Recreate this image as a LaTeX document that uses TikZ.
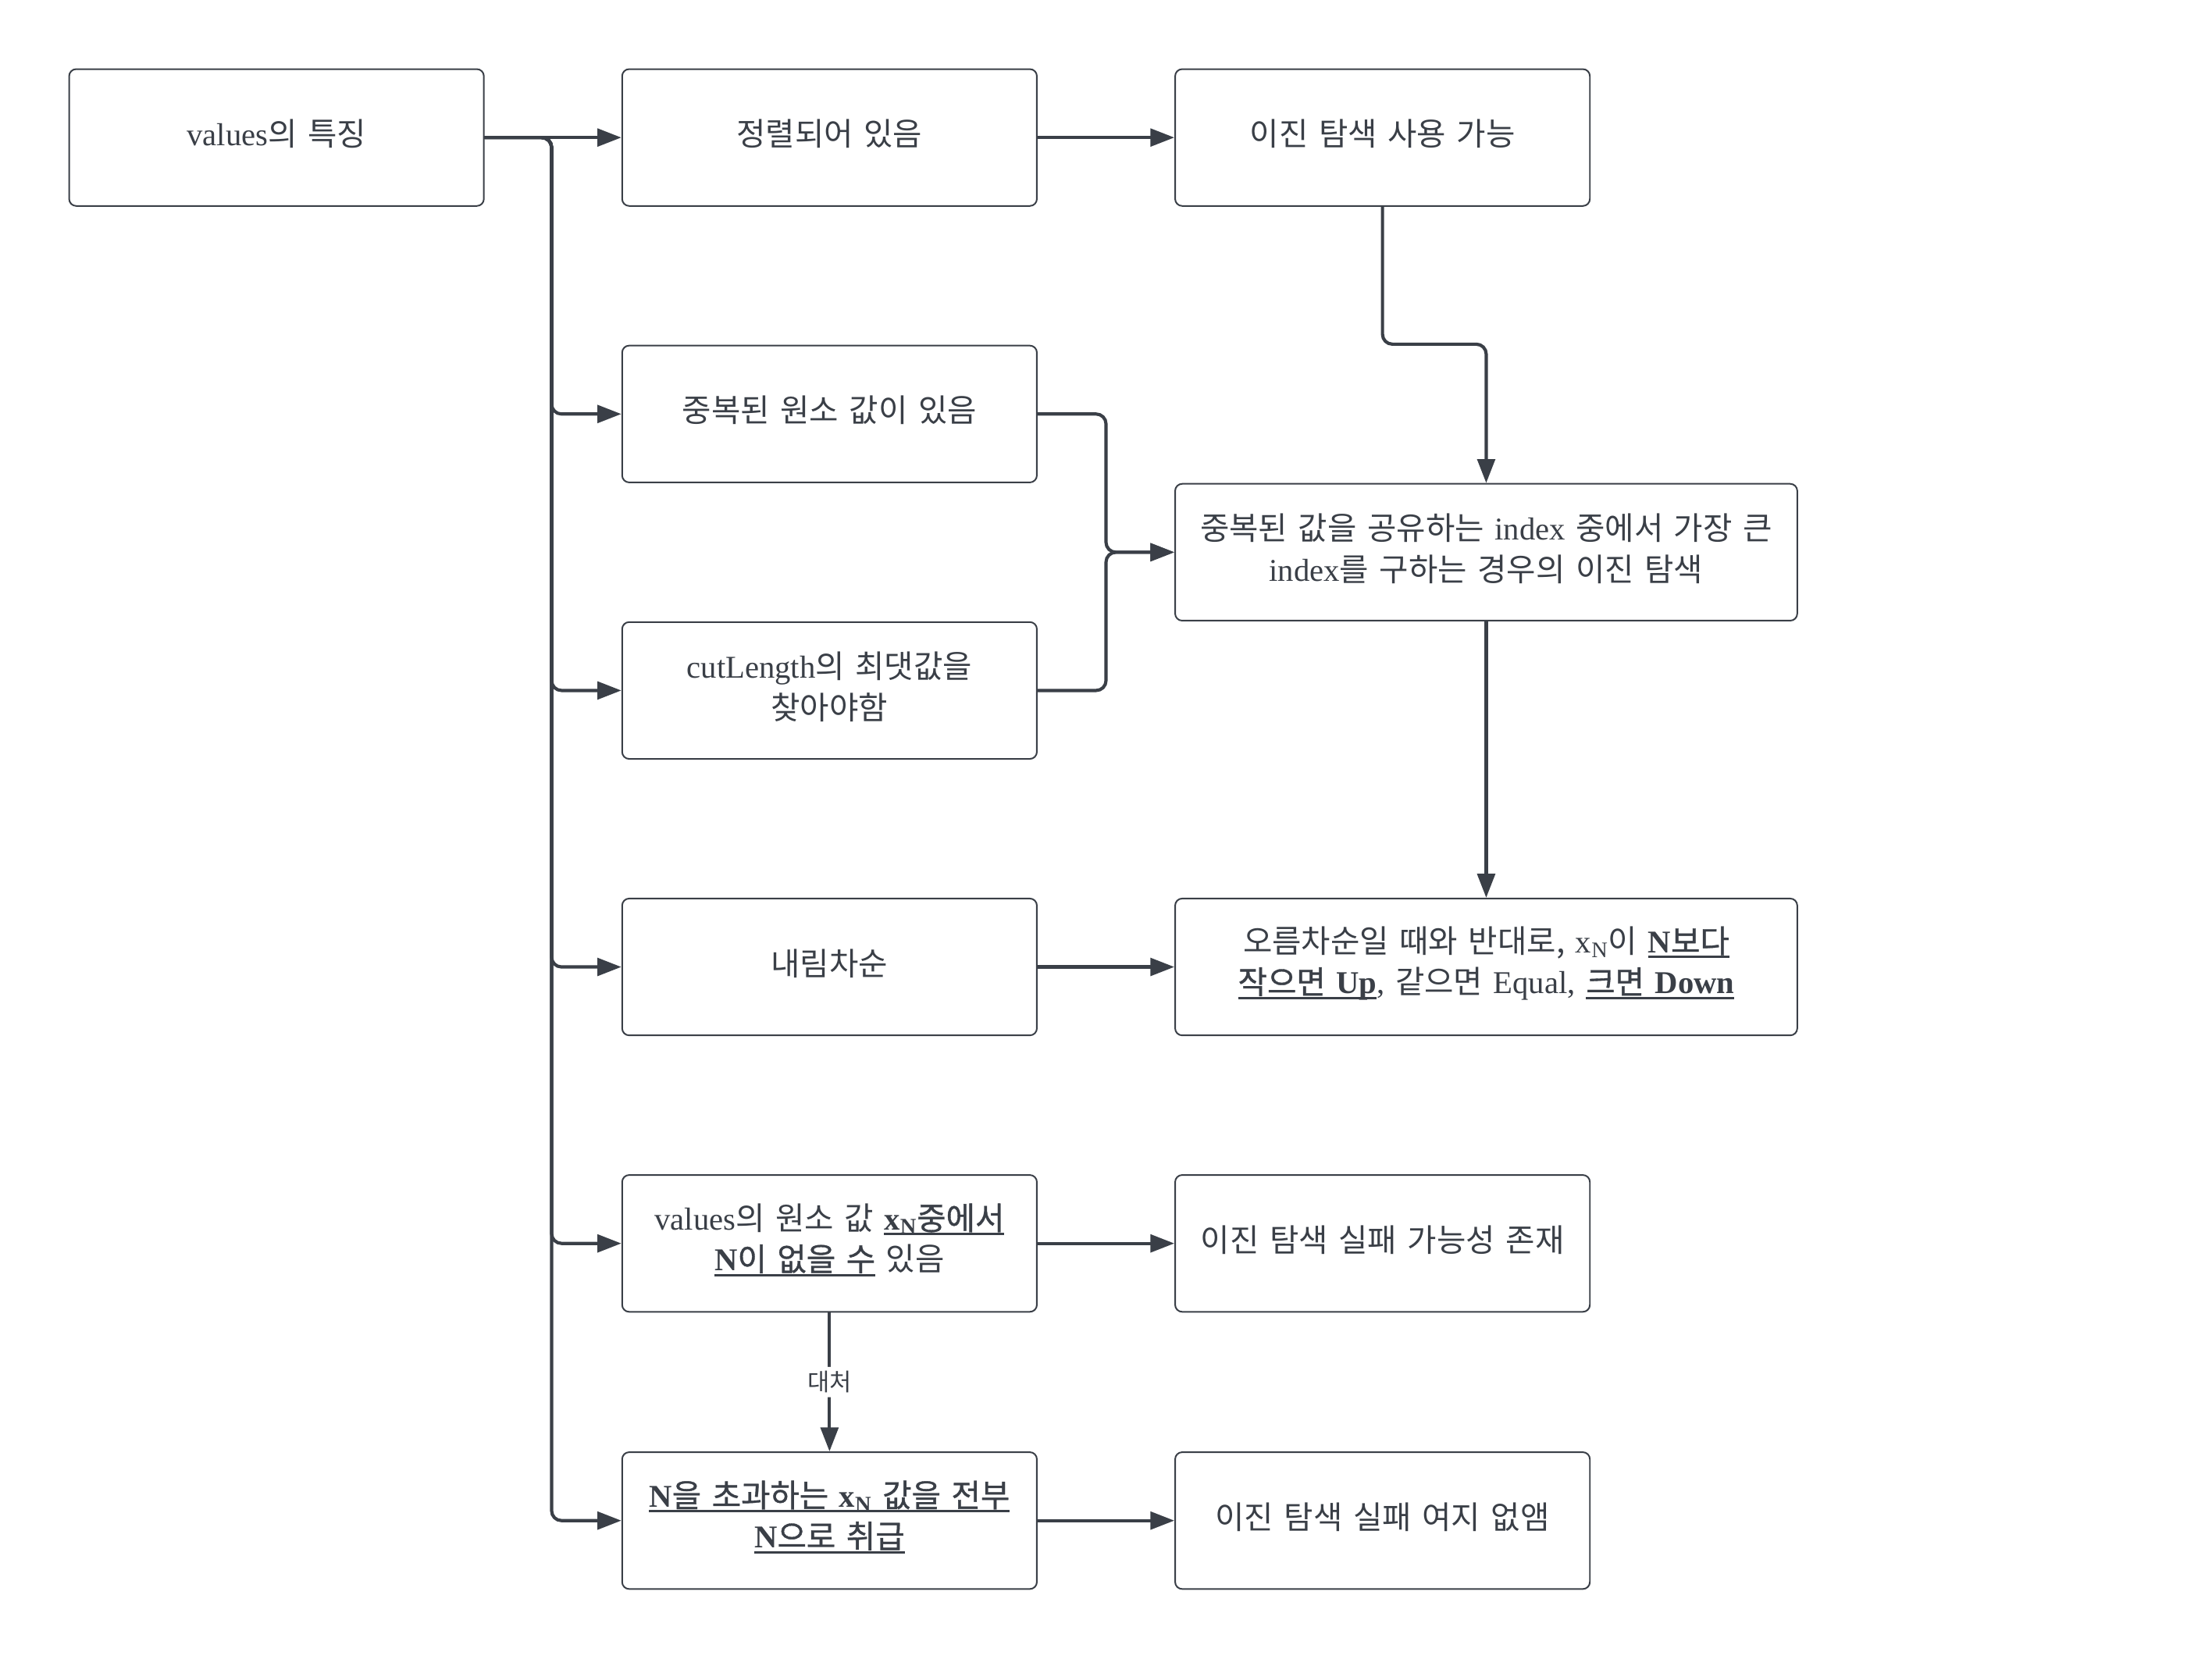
\documentclass[tikz,border=0pt]{standalone}
\usepackage{fontspec}
\setmainfont{Liberation Serif}
\newfontfamily\krfont{Noto Sans CJK KR}
\newfontfamily\krbfont{Noto Sans CJK KR}[FakeBold=0.9]
\usetikzlibrary{arrows.meta}
\newcommand{\K}[1]{{\krfont #1}}
\newcommand{\KB}[1]{{\krbfont #1}}
\newcommand{\ul}[1]{\leavevmode\setbox0\hbox{#1}\rlap{\vrule height -2.2pt depth 3.9pt width \wd0}\box0\relax}
\definecolor{ink}{HTML}{3A3F47}
\tikzset{
  box/.style={draw=ink, line width=1.1pt, rounded corners=5pt, fill=white,
    minimum width=294pt, minimum height=97pt, text width=286pt, align=center,
    text=ink, font=\fontsize{22.5}{29}\selectfont, inner sep=0pt,
    execute at end node={\par\vspace*{5pt}}},
  widebox/.style={box, minimum width=441pt, text width=433pt},
  conn/.style={draw=ink, line width=2.3pt, rounded corners=7pt,
    -{Triangle[length=17pt,width=12.5pt]}},
  lbl/.style={fill=white, text=ink, font=\fontsize{17}{20}\selectfont, inner sep=3pt}
}
\begin{document}
\begin{tikzpicture}[x=1pt,y=-1pt]
\fill[white] (0,0) rectangle (1568,1176);
\useasboundingbox (0,0) rectangle (1568,1176);

\node[box] (A) at (196,97.5) {values\K{의 특징}};
\node[box] (B) at (588,97.5) {\K{정렬되어 있음}};
\node[box] (C) at (980,97.5) {\K{이진 탐색 사용 가능}};
\node[box] (D) at (588,293.5) {\K{중복된 원소 값이 있음}};
\node[box] (E) at (588,489.5) {cutLength\K{의 최댓값을}\\\K{찾아야함}};
\node[widebox] (F) at (1053.5,391.5) {\K{중복된 값을 공유하는} index \K{중에서 가장 큰}\\index\K{를 구하는 경우의 이진 탐색}};
\node[box] (G) at (588,685.5) {\K{내림차순}};
\node[widebox] (H) at (1053.5,685.5) {\K{오름차순일 때와 반대로,} x\textsubscript{N}\K{이} \ul{\textbf{N}\KB{보다}}\\\ul{\KB{작으면} \textbf{Up}}, \K{같으면} Equal, \ul{\KB{크면} \textbf{Down}}};
\node[box] (I) at (588,881.5) {values\K{의 원소 값} \ul{\textbf{x\textsubscript{N}}\KB{중에서}}\\\ul{\textbf{N}\KB{이 없을 수}} \K{있음}};
\node[box] (J) at (980,881.5) {\K{이진 탐색 실패 가능성 존재}};
\node[box] (K) at (588,1078) {\ul{\textbf{N}\KB{을 초과하는} \textbf{x\textsubscript{N}} \KB{값을 전부}}\\\ul{\textbf{N}\KB{으로 취급}}};
\node[box] (L) at (980,1078) {\K{이진 탐색 실패 여지 없앰}};

\coordinate (t) at (391,97.5);
\coordinate (cf) at (1053.5,244);
\coordinate (m) at (784,391.5);

\draw[conn] (A.east) -- (B.west);
\draw[conn] (A.east) -- (t) |- (D.west);
\draw[conn] (A.east) -- (t) |- (E.west);
\draw[conn] (A.east) -- (t) |- (G.west);
\draw[conn] (A.east) -- (t) |- (I.west);
\draw[conn] (A.east) -- (t) |- (K.west);

\draw[conn] (B.east) -- (C.west);
\draw[conn] (C.south) |- (cf) -- (F.north);
\draw[conn] (D.east) -| (m) -- (F.west);
\draw[conn] (E.east) -| (m) -- (F.west);
\draw[conn] (F.south) -- (H.north);
\draw[conn] (G.east) -- (H.west);
\draw[conn] (I.east) -- (J.west);
\draw[conn] (K.east) -- (L.west);
\draw[conn] (I.south) -- node[lbl] (lab) {\K{대처}} (K.north);
\end{tikzpicture}
\end{document}
